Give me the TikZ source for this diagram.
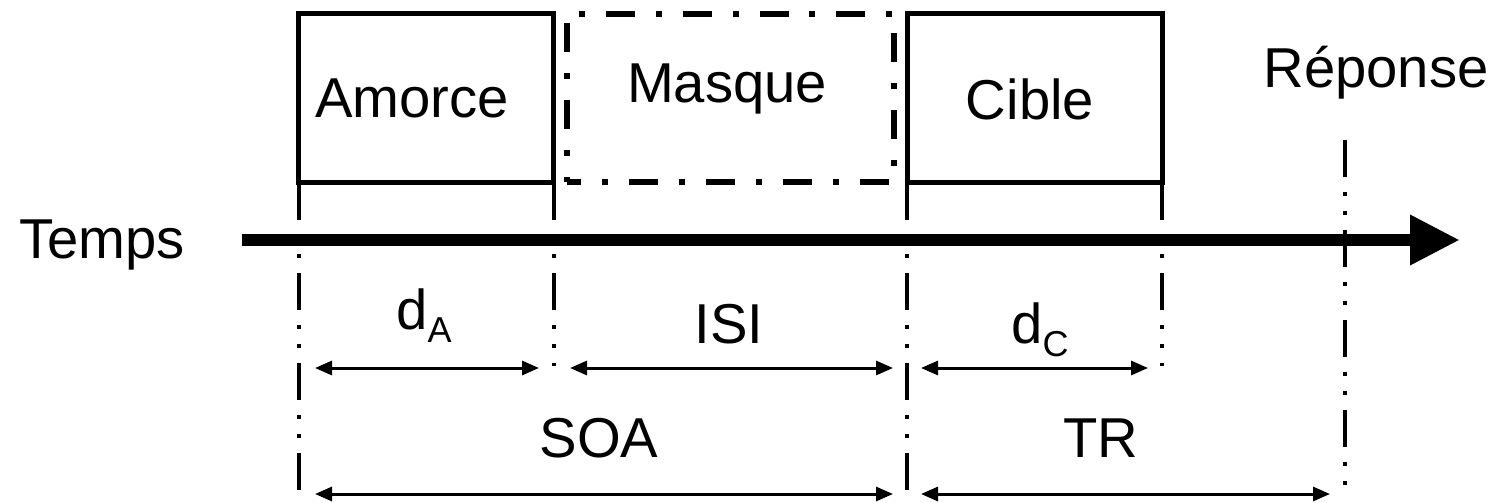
\documentclass[tikz,border=0pt]{standalone}
\usepackage{fontspec}
\setmainfont{Liberation Sans}
\usetikzlibrary{arrows.meta,positioning}

\newcommand{\lowidx}[1]{\raisebox{-0.28cm}{\fontsize{20.5}{24}\selectfont #1}}

\tikzset{
  stim box/.style={
    draw,
    line width=0.1cm,
    minimum width=5.1cm,
    minimum height=3.39cm,
    inner sep=0pt,
    outer sep=0pt
  },
  mask box/.style={
    stim box,
    line width=0.12cm,
    minimum width=6.54cm,
    minimum height=3.37cm,
    dash pattern=on 0.58cm off 0.42cm on 0.12cm off 0.42cm,
    dash phase=0.3cm
  },
  guide/.style={
    line width=0.085cm,
    dash pattern=on 0.74cm off 0.3cm on 0.08cm off 0.3cm on 0.08cm off 0.3cm
  },
  time axis/.style={
    line width=0.26cm,
    -{Triangle[length=1cm,width=0.94cm]}
  },
  span/.style={
    line width=0.06cm,
    {Triangle[length=0.34cm,width=0.28cm]}-{Triangle[length=0.34cm,width=0.28cm]}
  },
  lbl/.style={
    font=\fontsize{32}{38}\selectfont,
    inner sep=0pt,
    anchor=base
  }
}

\begin{document}
\begin{tikzpicture}[x=0.02cm, y=-0.02cm]
  \useasboundingbox (0,0) rectangle (1497,503);

  % Stimulus boxes
  \node[stim box] (amorce) at (426.25,98.25) {};
  \node[mask box] (masque) at (730.5,98) {};
  \node[stim box] (cible) at (1034.75,98.25) {};

  \node[lbl] (amorce-lbl) at (412,118) {Amorce};
  \node[lbl] (masque-lbl) at (727,103) {Masque};
  \node[lbl] (cible-lbl) at (1030,120) {Cible};
  \node[lbl] (reponse-lbl) at (1376,88) {Réponse};

  % Guide rows
  \coordinate (low) at (0,490);
  \coordinate (mid) at (0,366);
  \coordinate (rep-top) at (1345,140);
  \coordinate (rep-low) at (1345,485);

  % Onset / offset guides
  \draw[guide] (amorce.south west) -- (amorce.south west |- low);
  \draw[guide] (amorce.south east) -- (amorce.south east |- mid);
  \draw[guide] (cible.south west) -- (cible.south west |- low);
  \draw[guide] (cible.south east) -- (cible.south east |- mid);
  \draw[guide] (rep-top) -- (rep-low);

  % Time axis
  \node[lbl] (temps) at (102,258) {Temps};
  \coordinate (t-start) at (242,240);
  \coordinate (t-end) at (1460,240);
  \draw[time axis] (t-start) -- (t-end);

  % Durations (first row)
  \coordinate (dA-l) at (315,368);
  \coordinate (dA-r) at (539,368);
  \coordinate (isi-l) at (570,368);
  \coordinate (isi-r) at (893,368);
  \coordinate (dC-l) at (921,368);
  \coordinate (dC-r) at (1148,368);
  \draw[span] (dA-l) -- (dA-r);
  \draw[span] (isi-l) -- (isi-r);
  \draw[span] (dC-l) -- (dC-r);

  \node[lbl] (dA-lbl) at (424,329) {d\lowidx{A}};
  \node[lbl] (isi-lbl) at (729,343) {ISI};
  \node[lbl] (dC-lbl) at (1040,343) {d\lowidx{C}};

  % Intervals (second row)
  \coordinate (soa-l) at (315,494);
  \coordinate (soa-r) at (893,494);
  \coordinate (tr-l) at (921,494);
  \coordinate (tr-r) at (1330,494);
  \draw[span] (soa-l) -- (soa-r);
  \draw[span] (tr-l) -- (tr-r);

  \node[lbl] (soa-lbl) at (599,457) {SOA};
  \node[lbl] (tr-lbl) at (1101,457) {TR};

\end{tikzpicture}
\end{document}
